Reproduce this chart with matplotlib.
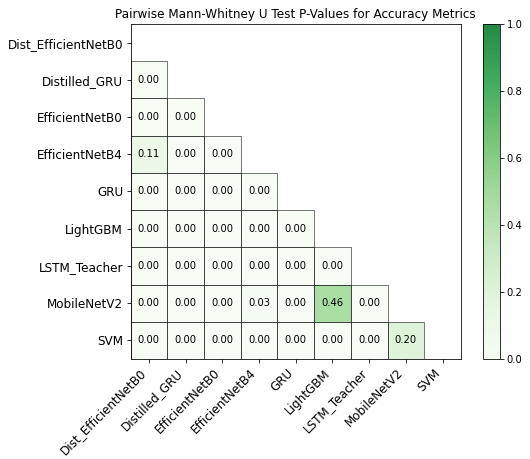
import numpy as np
import matplotlib
matplotlib.use("Agg")
import matplotlib.pyplot as plt
from matplotlib.colors import ListedColormap
from matplotlib.patches import Rectangle

models = ["Dist_EfficientNetB0", "Distilled_GRU", "EfficientNetB0", "EfficientNetB4",
          "GRU", "LightGBM", "LSTM_Teacher", "MobileNetV2", "SVM"]

# lower-triangle p-values, row i holds comparisons with models[0..i-1]
pvals_distilled_gru = [0.00]
pvals_efficientnetb0 = [0.00, 0.00]
pvals_efficientnetb4 = [0.11, 0.00, 0.00]
pvals_gru = [0.00, 0.00, 0.00, 0.00]
pvals_lightgbm = [0.00, 0.00, 0.00, 0.00, 0.00]
pvals_lstm_teacher = [0.00, 0.00, 0.00, 0.00, 0.00, 0.00]
pvals_mobilenetv2 = [0.00, 0.00, 0.00, 0.03, 0.00, 0.46, 0.00]
pvals_svm = [0.00, 0.00, 0.00, 0.00, 0.00, 0.00, 0.00, 0.20]

rows = [[], pvals_distilled_gru, pvals_efficientnetb0, pvals_efficientnetb4, pvals_gru,
        pvals_lightgbm, pvals_lstm_teacher, pvals_mobilenetv2, pvals_svm]

n = len(models)
mat = np.full((n, n), np.nan)
for i, r in enumerate(rows):
    for j, v in enumerate(r):
        mat[i, j] = v
data = np.ma.masked_invalid(mat)

# light-to-medium greens
cmap = ListedColormap(plt.get_cmap("Greens")(np.linspace(0.0, 0.75, 256)))

DPI = 72
fig = plt.figure(figsize=(530 / DPI, 459 / DPI), dpi=DPI)
ax = fig.add_axes([130.5 / 530, 1 - 359 / 459, 330.5 / 530, 335 / 459])
cax = fig.add_axes([483 / 530, 1 - 359 / 459, 16.5 / 530, 335 / 459])

mesh = ax.pcolormesh(np.arange(n + 1), np.arange(n + 1), data, cmap=cmap,
                     vmin=0, vmax=1, edgecolors="none")

for i, r in enumerate(rows):
    for j, v in enumerate(r):
        ax.add_patch(Rectangle((j, i), 1, 1, fill=False, ec="#222222", lw=0.6))
        rgba = cmap(v)
        lum = 0.2126 * rgba[0] + 0.7152 * rgba[1] + 0.0722 * rgba[2]
        ax.text(j + 0.5, i + 0.5, f"{v:.2f}", ha="center", va="center", fontsize=10,
                color="black" if lum > 0.408 else "white")

ax.set_xlim(0, n)
ax.set_ylim(n, 0)
ax.set_xticks(np.arange(n) + 0.5)
ax.set_yticks(np.arange(n) + 0.5)
ax.set_xticklabels(models, rotation=45, ha="right", rotation_mode="default", fontsize=12)
ax.set_yticklabels(models, fontsize=12)
ax.tick_params(axis="both", length=4)
ax.set_title("Pairwise Mann-Whitney U Test P-Values for Accuracy Metrics", fontsize=12)

cb = fig.colorbar(mesh, cax=cax)
cb.set_ticks([0.0, 0.2, 0.4, 0.6, 0.8, 1.0])
cb.ax.tick_params(labelsize=10)

fig.savefig("out.png", dpi=DPI)
